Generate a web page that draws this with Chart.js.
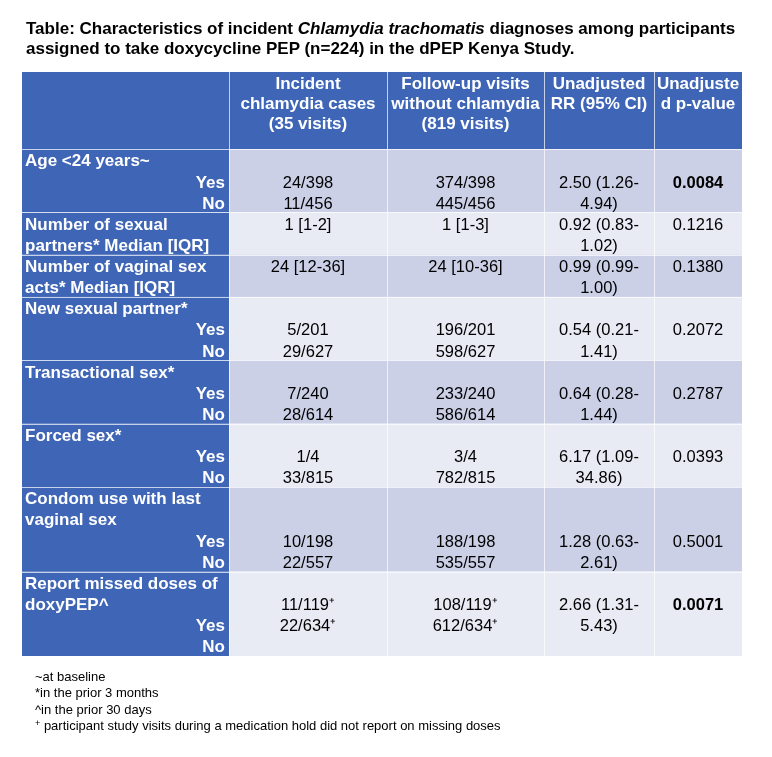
<!DOCTYPE html>
<html>
<head>
<meta charset="utf-8">
<script src="https://cdn.jsdelivr.net/npm/chart.js@4.4.1/dist/chart.umd.min.js"></script>
<style>
  html, body { margin: 0; padding: 0; background: #fff; }
  #wrap { position: relative; width: 772px; height: 757px; font-family: "Liberation Sans", Arial, sans-serif; }
  #c { position: absolute; left: 0; top: 0; }
  .title { position: absolute; left: 26px; top: 19px; font-size: 17px; font-weight: bold; line-height: 20px; color: #000; white-space: nowrap; }
  .notes { position: absolute; left: 35px; top: 669px; font-size: 13px; line-height: 16.4px; color: #000; white-space: nowrap; }
  .notes sup { font-size: 9px; line-height: 0; vertical-align: 4px; }
</style>
</head>
<body>
<div id="wrap">
  <canvas id="c" width="772" height="757"></canvas>
  <div class="title">Table: Characteristics of incident <i>Chlamydia trachomatis</i> diagnoses among participants<br>assigned to take doxycycline PEP (n=224) in the dPEP Kenya Study.</div>
  <div class="notes">~at baseline<br>*in the prior 3 months<br>^in the prior 30 days<br><sup>+</sup> participant study visits during a medication hold did not report on missing doses</div>
</div>
<script>
/* ── DATA ─────────────────────────────────────────────── */
const headers = [
    [],
    ['Incident', 'chlamydia cases', '(35 visits)'],
    ['Follow-up visits', 'without chlamydia', '(819 visits)'],
    ['Unadjusted', 'RR (95% CI)'],
    ['Unadjuste', 'd p-value'],
];
const rowLabels = [
    ['Age <24 years~'],
    ['Number of sexual', 'partners* Median [IQR]'],
    ['Number of vaginal sex', 'acts* Median [IQR]'],
    ['New sexual partner*'],
    ['Transactional sex*'],
    ['Forced sex*'],
    ['Condom use with last', 'vaginal sex'],
    ['Report missed doses of', 'doxyPEP^'],
];
const subLabels = [
    ['Yes', 'No'], [], [], ['Yes', 'No'], ['Yes', 'No'], ['Yes', 'No'], ['Yes', 'No'], ['Yes', 'No'],
];
const incidentCases = [
    ['24/398', '11/456'], ['1 [1-2]'], ['24 [12-36]'], ['5/201', '29/627'],
    ['7/240', '28/614'], ['1/4', '33/815'], ['10/198', '22/557'], ['11/119⁺', '22/634⁺'],
];
const followUpVisits = [
    ['374/398', '445/456'], ['1 [1-3]'], ['24 [10-36]'], ['196/201', '598/627'],
    ['233/240', '586/614'], ['3/4', '782/815'], ['188/198', '535/557'], ['108/119⁺', '612/634⁺'],
];
const unadjustedRR = [
    '2.50 (1.26-4.94)', '0.92 (0.83-1.02)', '0.99 (0.99-1.00)', '0.54 (0.21-1.41)',
    '0.64 (0.28-1.44)', '6.17 (1.09-34.86)', '1.28 (0.63-2.61)', '2.66 (1.31-5.43)',
];
const pValues = ['0.0084', '0.1216', '0.1380', '0.2072', '0.2787', '0.0393', '0.5001', '0.0071'];
const boldP = [true, false, false, false, false, false, false, true];

/* ── LAYOUT ───────────────────────────────────────────── */
const colEdges = [0, 207, 365, 522, 632, 720];   // table units (px wide)
const headerLines = 3.65;
const valueLine = [1, 0, 0, 1, 1, 1, 2, 1];      // line where values start inside a row
const rowLines = rowLabels.map((l, i) => l.length + subLabels[i].length);
const totalLines = headerLines + rowLines.reduce((a, b) => a + b, 0);

const BLUE = '#3F66B6';
const LAV_DARK = '#CBD0E7';
const LAV_LIGHT = '#E8EAF4';
const FONT = '"Liberation Sans", Arial, sans-serif';
const BASE = 0.82;   // baseline offset within a text line

const tablePlugin = {
    id: 'tableCells',
    beforeDatasetsDraw(chart) {
        const { ctx, scales: { x, y } } = chart;
        const X = v => x.getPixelForValue(v);
        const Y = v => y.getPixelForValue(v);
        const cell = (c, top, bottom, color) => {
            ctx.fillStyle = color;
            ctx.fillRect(X(colEdges[c]), Y(top), X(colEdges[c + 1]) - X(colEdges[c]), Y(bottom) - Y(top));
        };
        const mid = c => X((colEdges[c] + colEdges[c + 1]) / 2);

        ctx.save();
        // header band
        for (let c = 0; c < 5; c++) cell(c, 0, headerLines, BLUE);
        ctx.fillStyle = '#fff';
        ctx.font = 'bold 17px ' + FONT;
        ctx.textAlign = 'center';
        ctx.textBaseline = 'alphabetic';
        headers.forEach((lines, c) => {
            lines.forEach((t, k) => ctx.fillText(t, mid(c), Y(0.8 + k * 0.947)));
        });

        // body rows
        let top = headerLines;
        rowLabels.forEach((label, r) => {
            const bottom = top + rowLines[r];
            const shade = r % 2 === 0 ? LAV_DARK : LAV_LIGHT;
            cell(0, top, bottom, BLUE);
            for (let c = 1; c < 5; c++) cell(c, top, bottom, shade);

            ctx.fillStyle = '#fff';
            ctx.font = 'bold 17px ' + FONT;
            ctx.textAlign = 'left';
            label.forEach((t, k) => ctx.fillText(t, X(colEdges[0]) + 3, Y(top + k + BASE)));
            ctx.textAlign = 'right';
            subLabels[r].forEach((t, k) => ctx.fillText(t, X(colEdges[1]) - 4, Y(top + label.length + k + BASE)));

            ctx.fillStyle = '#000';
            ctx.textAlign = 'center';
            ctx.font = '16.5px ' + FONT;
            const v0 = top + valueLine[r];
            incidentCases[r].forEach((t, k) => ctx.fillText(t, mid(1), Y(v0 + k + BASE)));
            followUpVisits[r].forEach((t, k) => ctx.fillText(t, mid(2), Y(v0 + k + BASE)));
            unadjustedRR[r].replace('-', '-\n').split('\n')
                .forEach((t, k) => ctx.fillText(t, mid(3), Y(v0 + k + BASE)));
            ctx.font = (boldP[r] ? 'bold ' : '') + '16.5px ' + FONT;
            ctx.fillText(pValues[r], mid(4), Y(v0 + BASE));
            top = bottom;
        });

        // cell borders
        ctx.strokeStyle = 'rgba(255,255,255,0.7)';
        ctx.lineWidth = 1;
        ctx.beginPath();
        let yy = headerLines;
        [0].concat(rowLines).forEach(n => {
            yy += n;
            const py = Math.round(Y(yy)) + 0.5;
            ctx.moveTo(X(0), py); ctx.lineTo(X(720), py);
        });
        colEdges.slice(1, -1).forEach(e => {
            const px = Math.round(X(e)) + 0.5;
            ctx.moveTo(px, Y(0)); ctx.lineTo(px, Y(totalLines));
        });
        ctx.stroke();
        ctx.restore();
    },
};

new Chart(document.getElementById('c'), {
    type: 'scatter',
    data: { datasets: [{ data: [] }] },
    options: {
        responsive: false,
        animation: false,
        devicePixelRatio: 1,
        layout: { padding: { left: 22, top: 72, right: 30, bottom: 101 } },
        plugins: { legend: { display: false }, tooltip: { enabled: false } },
        scales: {
            x: { type: 'linear', min: 0, max: 720, display: false },
            y: { type: 'linear', min: 0, max: totalLines, reverse: true, display: false },
        },
    },
    plugins: [tablePlugin],
});
</script>
</body>
</html>
